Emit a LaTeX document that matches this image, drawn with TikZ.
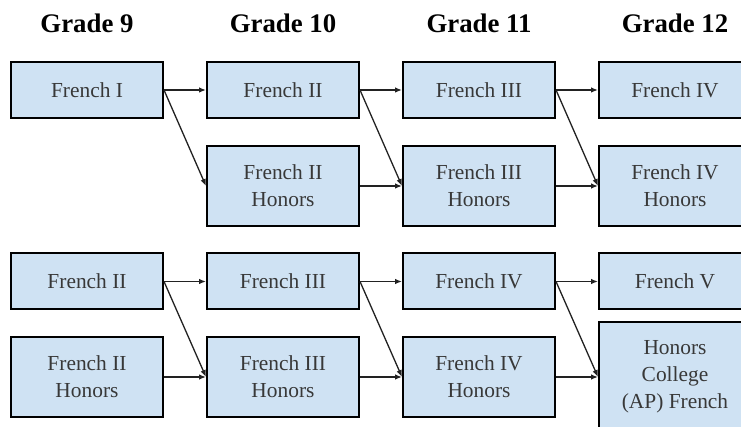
\documentclass[tikz,border=0pt]{standalone}
\usepackage{fontspec}
\setmainfont{Liberation Serif}
\usetikzlibrary{arrows.meta}
\definecolor{boxfill}{HTML}{CFE2F3}
\definecolor{txt}{HTML}{383838}
\definecolor{arr}{HTML}{222222}
\begin{document}
\begin{tikzpicture}[x=1pt,y=-1pt,
  course/.style={draw=black,line width=2pt,fill=boxfill,minimum width=152pt,inner sep=0pt,
    align=center,text=txt,font=\fontsize{21.4}{27}\selectfont},
  oneline/.style={course,minimum height=56pt},
  twoline/.style={course,minimum height=80pt},
  grade/.style={anchor=base,font=\fontsize{26.8}{30}\selectfont\bfseries,text=black},
  link/.style={draw=arr,line width=1.3pt,-{Latex[length=7pt,width=5.5pt]}}]
\clip (0,0) rectangle (741,427);
\fill[white] (0,0) rectangle (741,427);
% headings
\node[grade] (g9) at (87,33) {Grade 9};
\node[grade] (g10) at (283,33) {Grade 10};
\node[grade] (g11) at (479,33) {Grade 11};
\node[grade] (g12) at (675,33) {Grade 12};
% top track
\node[oneline] (a1) at (87,90) {French I};
\node[oneline] (a2) at (283,90) {French II};
\node[twoline] (a2h) at (283,186) {French II\\Honors};
\node[oneline] (a3) at (479,90) {French III};
\node[twoline] (a3h) at (479,186) {French III\\Honors};
\node[oneline] (a4) at (675,90) {French IV};
\node[twoline] (a4h) at (675,186) {French IV\\Honors};
% bottom track
\node[oneline] (b2) at (87,281.5) {French II};
\node[twoline] (b2h) at (87,377) {French II\\Honors};
\node[oneline] (b3) at (283,281.5) {French III};
\node[twoline] (b3h) at (283,377) {French III\\Honors};
\node[oneline] (b4) at (479,281.5) {French IV};
\node[twoline] (b4h) at (479,377) {French IV\\Honors};
\node[oneline] (b5) at (675,281.5) {French V};
\node[course,minimum height=110pt] (bap) at (675,377) {Honors\\College\\(AP) French};
% connectors
\draw[link] (a1.east) -- (a2.west);
\draw[link] (a1.east) -- (a2h.west);
\draw[link] (a2.east) -- (a3.west);
\draw[link] (a2.east) -- (a3h.west);
\draw[link] (a2h.east) -- (a3h.west);
\draw[link] (a3.east) -- (a4.west);
\draw[link] (a3.east) -- (a4h.west);
\draw[link] (a3h.east) -- (a4h.west);
\draw[link] (b2.east) -- (b3.west);
\draw[link] (b2.east) -- (b3h.west);
\draw[link] (b2h.east) -- (b3h.west);
\draw[link] (b3.east) -- (b4.west);
\draw[link] (b3.east) -- (b4h.west);
\draw[link] (b3h.east) -- (b4h.west);
\draw[link] (b4.east) -- (b5.west);
\draw[link] (b4.east) -- (bap.west);
\draw[link] (b4h.east) -- (bap.west);
\end{tikzpicture}
\end{document}
